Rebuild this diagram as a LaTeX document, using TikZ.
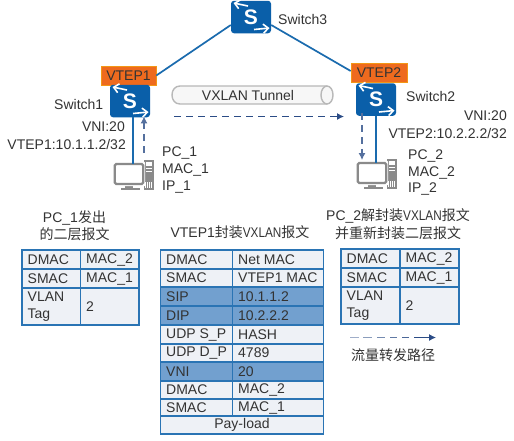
\documentclass[tikz,border=0pt]{standalone}
\usepackage{fontspec}
\usepackage{graphicx}
\setmainfont{Liberation Sans}
\newfontfamily\cjk{Noto Sans CJK SC}
\usetikzlibrary{arrows.meta,calc}
\definecolor{swblue}{HTML}{0A5FA9}
\definecolor{linkblue}{HTML}{1A6BAE}
\definecolor{tabline}{HTML}{2A74B4}
\definecolor{light}{HTML}{EEF1F6}
\definecolor{dark}{HTML}{72A0CF}
\definecolor{vtep}{HTML}{EE6A1E}
\definecolor{flow}{HTML}{2B4C86}
\definecolor{txt}{HTML}{333333}
\definecolor{pcgray}{HTML}{8A8A8A}
\newcommand\vx{\scalebox{.84}[1]{VXLAN}}
\tikzset{
  lbl/.style={font=\fontsize{14}{17}\selectfont,text=txt,inner sep=0pt,align=left},
  title/.style={font=\fontsize{14}{17.5}\selectfont,text=txt,inner sep=0pt,align=center},
  vtepbox/.style={fill=vtep,draw=vtep!70!yellow,line width=.6pt,minimum width=55pt,minimum height=19pt,inner sep=0pt,font=\fontsize{14}{17}\selectfont,text=txt},
  swbox/.style={fill=swblue,rounded corners=3pt,minimum width=40pt,minimum height=32.5pt,inner sep=0pt,text=white,font=\fontsize{21}{21}\bfseries\selectfont},
  swarrow/.style={draw=white,line width=1.6pt,-{Straight Barb[length=5pt,width=9pt]}},
  link/.style={draw=linkblue,line width=1.7pt},
  flowline/.style={draw=flow,line width=1.1pt,dash pattern=on 7pt off 5pt},
  flowtip/.style={-{Latex[length=7pt,width=7pt]}},
  cellb/.style={draw=tabline,line width=1.1pt},
}
\newcommand\swnode[3]{%
  \node[swbox] (#1) at (#2,#3) {S};
  \draw[swarrow] ([shift={(-3,-11)}]#1.center) -- ([shift={(-17.5,-14)}]#1.center);
  \draw[swarrow] ([shift={(3,12.5)}]#1.center) -- ([shift={(18.5,11)}]#1.center);
}
\newcommand\pcicon[3]{%
  \begin{scope}[shift={(#2,#3)}]
    \fill[pcgray] (30,-3) rectangle (40,27);
    \fill[white] (32,-1) rectangle (38,3);
    \fill[white] (32,5) rectangle (38,6);
    \fill[white] (32,8) rectangle (38,9);
    \foreach \k in {27,29,31,33,35,37} \fill[white] (\k,19) rectangle (\k+1,25);
    \fill[pcgray] (11,22) rectangle (19,25);
    \fill[pcgray] (7,25) rectangle (26,27);
    \fill[white,rounded corners=.5pt] (-1,-1) rectangle (31,23);
    \node[draw=pcgray,fill=white,line width=2.2pt,rounded corners=1.5pt,minimum width=28.5pt,minimum height=20pt,inner sep=0pt] (#1) at (15,11) {};
  \end{scope}
}
% cell: name, x0, y0, x1, y1, fill, text
\newcommand\tabcell[7]{%
  \node[cellb,fill=#6,minimum width={(#4-#2)*1pt},minimum height={(#5-#3)*1pt},inner sep=0pt] (#1) at ({(#2+#4)/2},{(#3+#5)/2}) {};
  \node[lbl,anchor=west] at ({#2+5.5},{(#3+#5)/2}) {#7};
}
\begin{document}
\begin{tikzpicture}[x=1pt,y=-1pt]
\useasboundingbox (0,0) rectangle (514,440);
\fill[white] (0,0) rectangle (514,440);

% devices
\swnode{sw3}{251}{17}
\node[vtepbox] (v1) at (128.5,75.5) {VTEP1};
\node[vtepbox,minimum width=56pt] (v2) at (379,72.5) {VTEP2};
\swnode{sw1}{130}{101}
\swnode{sw2}{376}{99.5}
\pcicon{pc1}{114}{163}
\pcicon{pc2}{357}{162}

% tunnel
\draw[draw=black!28,line width=1.4pt,fill=black!3] (327,86) -- (180,86) .. controls (175,86) and (172,90) .. (172,95) .. controls (172,100) and (175,104) .. (180,104) -- (327,104);
\draw[draw=black!28,line width=1.4pt,fill=black!3] (327,95) ellipse[x radius=6,y radius=9];
\node[lbl] (tun) at (248,95) {VXLAN Tunnel};

% links
\draw[link] (sw3.west |- 0,25) -- (v1.east);
\draw[link] (sw3.east |- 0,25) -- (v2.north west |- 0,71);
\draw[link] ([xshift=3pt]sw1.south) -- ([xshift=4pt,yshift=-1pt]pc1.north);
\draw[link] (sw2.south) -- ([xshift=4pt,yshift=-1pt]pc2.north);

% flow arrows
\coordinate (fa) at (174,116.5);
\coordinate (fb) at (344,116.5);
\draw[flowline,flowtip] (fa) -- (fb);
\coordinate (up1) at ([xshift=14pt,yshift=1pt]sw1.south);
\draw[flowline,flowtip,draw=flow!80] (up1 |- 0,153) -- (up1);
\coordinate (dn2) at ([xshift=-14pt,yshift=3pt]sw2.south);
\draw[flowline,flowtip,draw=flow!80] (dn2) -- (dn2 |- 0,160);

% device labels
\node[lbl,anchor=west] at (278,19) {Switch3};
\node[lbl,anchor=west] at (54,104) {Switch1};
\node[lbl,anchor=west] at (406,96) {Switch2};
\node[lbl,anchor=east] at (125,127) {VNI:20};
\node[lbl,anchor=east] at (126,144) {VTEP1:10.1.1.2/32};
\node[lbl,anchor=east] at (507,116) {VNI:20};
\node[lbl,anchor=east] at (507,133) {VTEP2:10.2.2.2/32};
\node[lbl,anchor=west] at (162,153) {PC\_1};
\node[lbl,anchor=west] at (162,170) {MAC\_1};
\node[lbl,anchor=west] at (162,187) {IP\_1};
\node[lbl,anchor=west] at (408,156) {PC\_2};
\node[lbl,anchor=west] at (408,173) {MAC\_2};
\node[lbl,anchor=west] at (408,189) {IP\_2};

% titles
\node[title] at (74.5,225.5) {PC\_1{\cjk 发出}\\{\cjk 的二层报文}};
\node[title] at (240,232) {VTEP1{\cjk 封装}\vx{\cjk 报文}};
\node[title] at (398,224) {PC\_2{\cjk 解封装}\vx{\cjk 报文}\\{\cjk 并重新封装二层报文}};

% left table
\tabcell{la}{22}{250}{80.5}{269}{light}{DMAC}
\tabcell{lb}{80.5}{250}{139}{269}{light}{MAC\_2}
\tabcell{lc}{22}{269}{80.5}{288}{light}{SMAC}
\tabcell{ld}{80.5}{269}{139}{288}{light}{MAC\_1}
\tabcell{le}{22}{288}{80.5}{325}{light}{VLAN\\Tag}
\tabcell{lf}{80.5}{288}{139}{325}{light}{2}

% middle table
\tabcell{ma}{160.5}{250}{232.5}{269}{light}{DMAC}
\tabcell{mb}{232.5}{250}{323.5}{269}{light}{Net MAC}
\tabcell{mc}{160.5}{269}{232.5}{287}{light}{SMAC}
\tabcell{md}{232.5}{269}{323.5}{287}{light}{VTEP1 MAC}
\tabcell{me}{160.5}{287}{232.5}{306}{dark}{SIP}
\tabcell{mf}{232.5}{287}{323.5}{306}{dark}{10.1.1.2}
\tabcell{mg}{160.5}{306}{232.5}{325}{dark}{DIP}
\tabcell{mh}{232.5}{306}{323.5}{325}{dark}{10.2.2.2}
\tabcell{mi}{160.5}{325}{232.5}{344}{light}{UDP S\_P}
\tabcell{mj}{232.5}{325}{323.5}{344}{light}{HASH}
\tabcell{mk}{160.5}{344}{232.5}{362}{light}{UDP D\_P}
\tabcell{ml}{232.5}{344}{323.5}{362}{light}{4789}
\tabcell{mm}{160.5}{362}{232.5}{381}{dark}{VNI}
\tabcell{mn}{232.5}{362}{323.5}{381}{dark}{20}
\tabcell{mo}{160.5}{381}{232.5}{399}{light}{DMAC}
\tabcell{mp}{232.5}{381}{323.5}{399}{light}{MAC\_2}
\tabcell{mq}{160.5}{399}{232.5}{416}{light}{SMAC}
\tabcell{mr}{232.5}{399}{323.5}{416}{light}{MAC\_1}
\node[cellb,fill=light,minimum width=163pt,minimum height=18pt,inner sep=0pt] (ms) at (242,425) {};
\node[lbl] at (242,425) {Pay-load};

% right table
\tabcell{ra}{341}{249}{400}{268}{light}{DMAC}
\tabcell{rb}{400}{249}{459}{268}{light}{MAC\_2}
\tabcell{rc}{341}{268}{400}{287}{light}{SMAC}
\tabcell{rd}{400}{268}{459}{287}{light}{MAC\_1}
\tabcell{re}{341}{287}{400}{324}{light}{VLAN\\Tag}
\tabcell{rf}{400}{287}{459}{324}{light}{2}

% legend
\coordinate (lga) at (350,337.5);
\coordinate (lgb) at (436,337.5);
\draw[line width=1.4pt,draw=flow!45] (lga) -- ++(9,0);
\draw[line width=1.3pt,draw=flow!55] ([xshift=13pt]lga) -- ++(9,0);
\draw[line width=1.2pt,draw=flow!65] ([xshift=27pt]lga) -- ++(8,0);
\draw[line width=1.1pt,draw=flow!75] ([xshift=40pt]lga) -- ++(7,0);
\draw[line width=1.1pt,draw=flow!85] ([xshift=52pt]lga) -- ++(7,0);
\draw[line width=1.1pt,draw=flow,flowtip] ([xshift=64pt]lga) -- (lgb);
\node[lbl] at (393,355) {\cjk 流量转发路径};
\end{tikzpicture}
\end{document}
